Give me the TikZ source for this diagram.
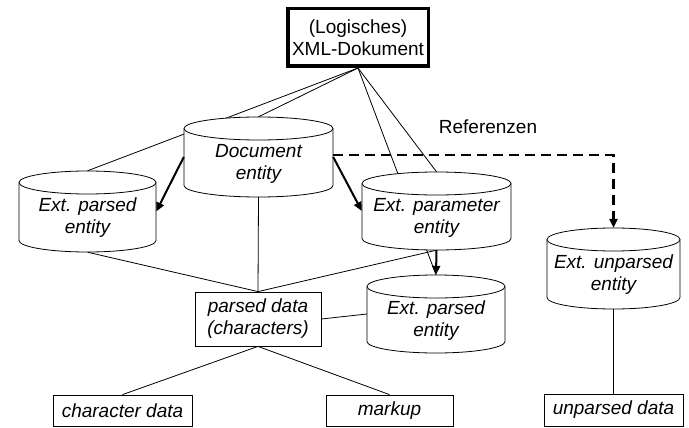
\documentclass[tikz,border=0pt]{standalone}
\usepackage{fontspec}
\setmainfont{Liberation Sans}
\usetikzlibrary{arrows.meta}
\pgfdeclarelayer{bg}
\pgfsetlayers{bg,main}
\newcommand\cylnode[6]{%
  \draw[thinline, fill=white] ({#2-#4},{#3-#5+11.5}) -- ({#2-#4},{#3+#5-11.5})
    arc[start angle=180, end angle=360, x radius=#4pt, y radius=11.5pt]
    -- ({#2+#4},{#3-#5+11.5})
    arc[start angle=0, end angle=180, x radius=#4pt, y radius=11.5pt] -- cycle;
  \draw[thinline] ({#2-#4},{#3-#5+11.5})
    arc[start angle=180, end angle=360, x radius=#4pt, y radius=11.5pt];
  \node[cylbody, minimum width=2*#4pt, minimum height=2*#5pt] (#1) at (#2,#3) {};
  \node[cyltext] (#1-t) at (#2,{#3+6.5}) {#6};
}
\begin{document}
\begin{tikzpicture}[x=1pt,y=-1pt,
  every node/.style={font=\fontsize{19}{22}\selectfont, align=center},
  thinline/.style={line width=0.8pt},
  cylbody/.style={draw=none, inner sep=0pt},
  cyltext/.style={draw=none, inner sep=0pt, font=\fontsize{19}{22}\selectfont\itshape},
  databox/.style={draw, thinline, fill=white, inner sep=0pt, font=\fontsize{19}{22}\selectfont\itshape},
  conn/.style={thinline},
  thickarrow/.style={line width=2pt, -{Triangle[length=9pt,width=8pt]}},
  refarrow/.style={line width=2.5pt, dash pattern=on 10pt off 6pt, -{Triangle[length=9pt,width=8pt]}}
]
\useasboundingbox (0,0) rectangle (689,428);

\node[draw, line width=3.5pt, minimum width=140.5pt, minimum height=57.5pt, inner sep=0pt] (xml) at (358,37.5) {(Logisches)\\XML-Dokument};

\cylnode{doc}{258.5}{157}{74.5}{40}{Document\\entity}
\cylnode{extp}{87.5}{211.5}{68.5}{40.5}{Ext. parsed\\entity}
\cylnode{param}{436.5}{211}{74.5}{39}{Ext. parameter\\entity}
\cylnode{lower}{436}{314}{69}{39}{Ext. parsed\\entity}
\cylnode{unp}{613.5}{268.5}{66.5}{40.5}{Ext. unparsed\\entity}

\node[databox, minimum width=126pt, minimum height=54pt] (parsed) at (258,319) {parsed data\\(characters)};
\node[databox, minimum width=139pt, minimum height=31pt] (chard) at (122.5,410.5) {character data};
\node[databox, minimum width=127pt, minimum height=31pt] (markup) at (389.5,410.5) {markup};
\node[databox, minimum width=139pt, minimum height=32pt] (unpd) at (613.5,410) {unparsed data};

\node (ref) at (488,127) {Referenzen};

\begin{pgfonlayer}{bg}
\draw[conn] (xml.south) -- (extp.north);
\draw[conn] (xml.south) -- (doc.north);
\draw[conn] (xml.south) -- (param.north);
\draw[conn] (xml.south) -- (lower.north);
\draw[conn] (extp.south) -- (parsed.north);
\draw[conn] (doc.south) -- (parsed.north);
\draw[conn] (param.south) -- (parsed.north);
\draw[conn] (parsed.east) -- (lower.west);
\draw[conn] (parsed.south) -- (chard.north);
\draw[conn] (parsed.south) -- (markup.north);
\draw[conn] (unp.south) -- (unpd.north);
\end{pgfonlayer}

\draw[thickarrow] (doc.west) -- (extp.east);
\draw[thickarrow] (doc.east) -- (param.west);
\draw[thickarrow] (param.south) -- (lower.north);
\draw[refarrow] ([yshift=2pt]doc.east) -| (unp.north);
\end{tikzpicture}
\end{document}
